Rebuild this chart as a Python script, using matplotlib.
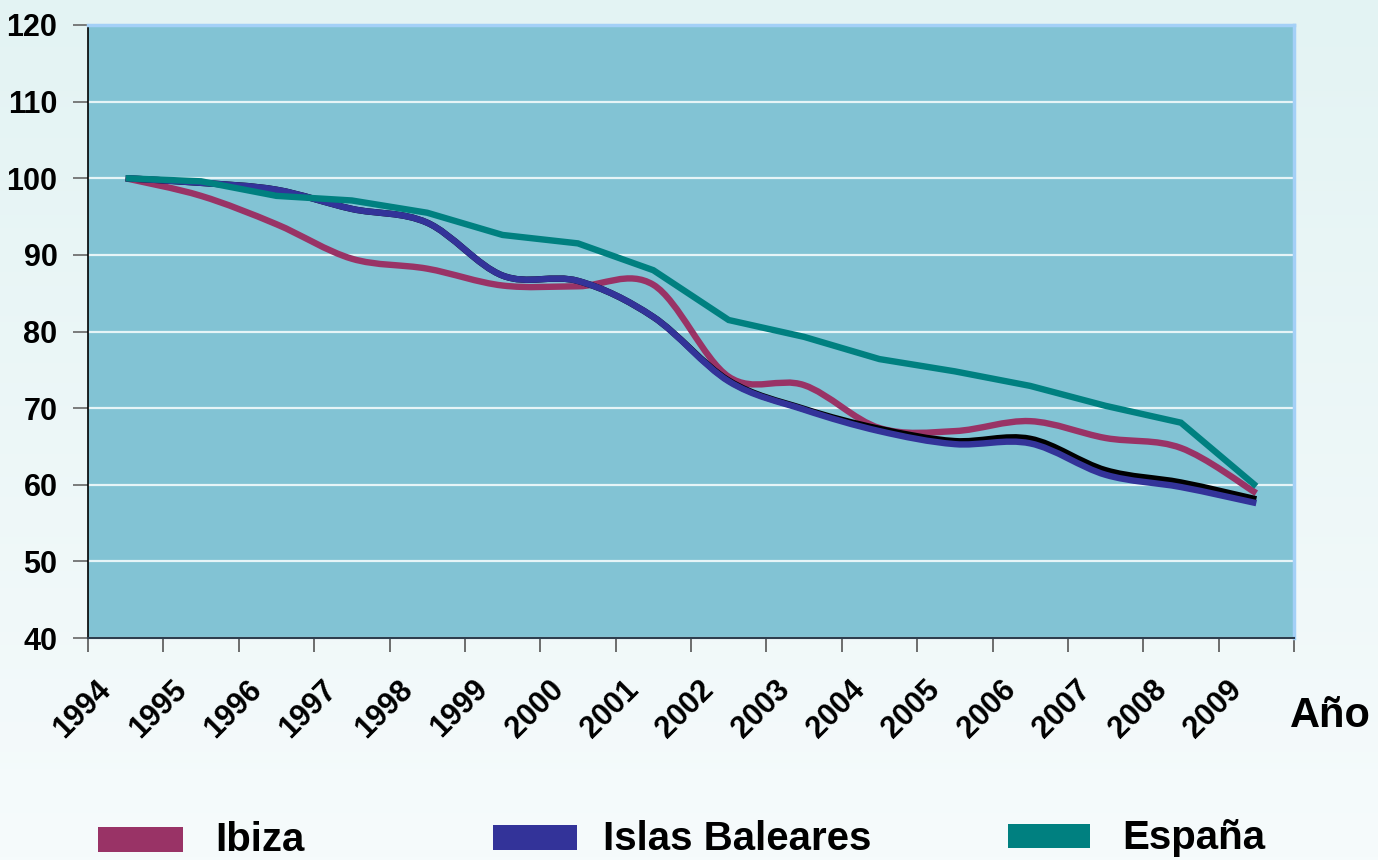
import numpy as np
import matplotlib
matplotlib.use("Agg")
import matplotlib.pyplot as plt
from matplotlib.path import Path
from matplotlib.patches import PathPatch, Rectangle
from matplotlib.colors import LinearSegmentedColormap
from matplotlib.transforms import ScaledTranslation

# ---------------- data ----------------
years = [1994, 1995, 1996, 1997, 1998, 1999, 2000, 2001,
         2002, 2003, 2004, 2005, 2006, 2007, 2008, 2009]
ibiza = [100.0, 97.7, 94.0, 89.5, 88.2, 86.0, 85.9, 86.1,
         74.1, 73.0, 67.4, 67.0, 68.3, 66.1, 64.8, 58.9]
baleares = [100.0, 99.4, 98.5, 96.0, 94.2, 87.3, 86.6, 81.9,
            73.5, 69.8, 67.0, 65.3, 65.4, 61.3, 59.7, 57.6]
serie_negra = [100.0, 99.4, 98.5, 96.0, 94.2, 87.3, 86.6, 81.9,
               73.6, 69.9, 67.3, 65.7, 66.0, 61.9, 60.3, 58.1]
espana = [100.0, 99.6, 97.7, 97.1, 95.5, 92.6, 91.5, 88.0,
          81.5, 79.3, 76.4, 74.8, 72.9, 70.3, 68.1, 59.8]
y_ticks = [40, 50, 60, 70, 80, 90, 100, 110, 120]
legend_labels = ["Ibiza", "Islas Baleares", "España"]

C_IBIZA = "#993366"
C_BAL = "#333399"
C_ESP = "#008080"
C_NEG = "#000000"

W, H = 1378, 860
fig = plt.figure(figsize=(W / 100, H / 100), dpi=100)

# background gradient
bg = fig.add_axes([0, 0, 1, 1], zorder=-10)
grad = np.linspace(0, 1, 256).reshape(-1, 1)
cmap = LinearSegmentedColormap.from_list("bg", ["#E3F3F3", "#F6FBFC"])
bg.imshow(grad, aspect="auto", cmap=cmap, extent=[0, 1, 0, 1], origin="upper")
bg.set_axis_off()

ax = fig.add_axes([88 / W, 1 - 638 / H, (1294 - 88) / W, (638 - 25) / H])
ax.set_facecolor("#82C3D4")
ax.set_xlim(years[0] - 0.5, years[-1] + 0.5)
ax.set_ylim(y_ticks[0], y_ticks[-1])


def smooth_path(xs, ys):
    xs = np.asarray(xs, float)
    ys = np.asarray(ys, float)
    n = len(xs)
    verts = [(xs[0], ys[0])]
    codes = [Path.MOVETO]
    for i in range(n - 1):
        a = i - 1 if i > 0 else i
        d = i + 2 if i + 2 < n else i + 1
        c1 = (xs[i] + (xs[i + 1] - xs[a]) / 6, ys[i] + (ys[i + 1] - ys[a]) / 6)
        c2 = (xs[i + 1] - (xs[d] - xs[i]) / 6, ys[i + 1] - (ys[d] - ys[i]) / 6)
        verts += [c1, c2, (xs[i + 1], ys[i + 1])]
        codes += [Path.CURVE4] * 3
    return Path(verts, codes)


LW = 4.6
for vals, col, z in [(ibiza, C_IBIZA, 3), (serie_negra, C_NEG, 4), (baleares, C_BAL, 5)]:
    p = PathPatch(smooth_path(years, vals), fill=False, edgecolor=col, lw=LW,
                  capstyle="butt", joinstyle="round", zorder=z)
    ax.add_patch(p)
ax.plot(years, espana, color=C_ESP, lw=LW, solid_capstyle="butt",
        solid_joinstyle="miter", zorder=6)

# grid
ax.set_yticks(y_ticks)
ax.yaxis.grid(True, color="#F2FAFC", lw=1.6, alpha=0.9)
ax.set_axisbelow(True)
for lab in ax.get_yticklabels():
    lab.set_fontweight("bold")
    lab.set_fontsize(22)
    lab.set_family("Liberation Sans")
ax.tick_params(axis="y", length=11, width=1.2, color="#666666", pad=11)

ax.set_xticks(np.arange(years[0] - 0.5, years[-1] + 1, 1.0))
ax.set_xticklabels([])
ax.tick_params(axis="x", length=10, width=1.2, color="#555555", direction="out")

for s in ["top", "right"]:
    ax.spines[s].set_color("#A4D0F7")
    ax.spines[s].set_linewidth(2.5)
ax.spines["left"].set_color("#000000")
ax.spines["left"].set_linewidth(1.2)
ax.spines["bottom"].set_color("#2E3E4E")
ax.spines["bottom"].set_linewidth(1.5)

off = ScaledTranslation(-19 / 100, -47 / 100, fig.dpi_scale_trans)
for yr in years:
    ax.text(yr, 0, str(yr), transform=ax.get_xaxis_transform() + off,
            rotation=45, ha="right", va="center", rotation_mode="anchor",
            fontsize=22, fontweight="bold", family="Liberation Sans")

fig.text(1290 / W, 1 - 727 / H, "Año", fontsize=30, fontweight="bold",
         family="Liberation Sans", ha="left", va="baseline")

# legend (manual layout)
leg = [
    (legend_labels[0], C_IBIZA, 98, 183, 827, 852, 215, 851),
    (legend_labels[1], C_BAL, 493, 577, 825, 850, 603, 850),
    (legend_labels[2], C_ESP, 1008, 1090, 824, 848, 1122, 849),
]
for lab, col, x0, x1, y0, y1, tx, tb in leg:
    fig.patches.append(Rectangle((x0 / W, 1 - y1 / H), (x1 - x0) / W, (y1 - y0) / H,
                                 transform=fig.transFigure, facecolor=col,
                                 edgecolor="none", zorder=5))
    fig.text(tx / W, 1 - tb / H, lab, fontsize=29, fontweight="bold",
             family="Liberation Sans", ha="left", va="baseline")

fig.savefig("out.png", dpi=100)
